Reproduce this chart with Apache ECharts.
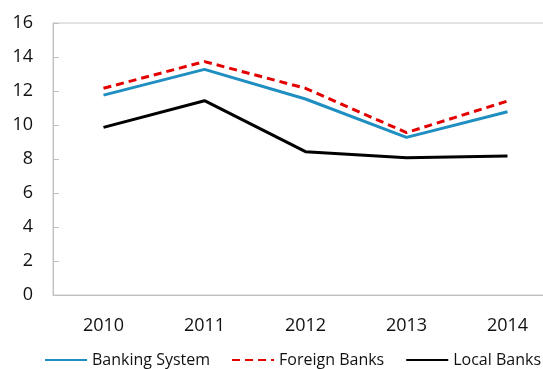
<!DOCTYPE html>
<html>
<head>
<meta charset="utf-8">
<script src="https://cdn.jsdelivr.net/npm/echarts@6/dist/echarts.min.js"></script>
<style>
  html, body { margin: 0; padding: 0; background: #fff; }
  #chart { width: 543px; height: 369px; }
</style>
</head>
<body>
<div id="chart"></div>
<script>
// Years on the horizontal axis
const years = ['2010', '2011', '2012', '2013', '2014'];

// Ratios per group of banks (%)
const bankingSystem = [11.76, 13.27, 11.53, 9.27, 10.78];
const foreignBanks  = [12.16, 13.73, 12.16, 9.55, 11.41];
const localBanks    = [9.86, 11.43, 8.43, 8.08, 8.18];

const fontFamily = '"Open Sans", "Noto Sans", sans-serif';

const chart = echarts.init(document.getElementById('chart'), null, { renderer: 'canvas' });

chart.setOption({
  animation: false,
  backgroundColor: '#ffffff',
  grid: {
    left: 53,
    top: 23,
    width: 505,
    height: 272,
    show: true,
    borderColor: '#c8c8c8',
    borderWidth: 1,
    containLabel: false,
    outerBoundsMode: 'none'
  },
  legend: {
    left: 44,
    top: 352,
    width: 560,
    padding: 0,
    itemWidth: 42,
    itemHeight: 14,
    itemGap: 21,
    itemStyle: { opacity: 0 },
    textStyle: { fontFamily, fontSize: 16, color: '#111' },
    data: ['Banking System', 'Foreign Banks', 'Local Banks']
  },
  xAxis: {
    type: 'category',
    data: years,
    boundaryGap: true,
    axisLine: { lineStyle: { color: '#c0c0c0', width: 1 } },
    axisTick: { inside: true, length: 6, lineStyle: { color: '#c0c0c0' } },
    axisLabel: { fontFamily, fontSize: 18, color: '#111', margin: 22 },
    splitLine: { show: false }
  },
  yAxis: {
    type: 'value',
    min: 0,
    max: 16,
    interval: 2,
    axisLine: { show: true, lineStyle: { color: '#c0c0c0', width: 1 } },
    axisTick: { show: true, inside: true, length: 6, lineStyle: { color: '#c0c0c0' } },
    axisLabel: { fontFamily, fontSize: 18, color: '#111', margin: 20 },
    splitLine: { show: false }
  },
  series: [
    {
      name: 'Banking System',
      type: 'line',
      data: bankingSystem,
      symbol: 'none',
      lineStyle: { color: '#1f8ec0', width: 3 },
      itemStyle: { color: '#1f8ec0' }
    },
    {
      name: 'Foreign Banks',
      type: 'line',
      data: foreignBanks,
      symbol: 'none',
      lineStyle: { color: '#e30000', width: 3, type: [8, 5] },
      itemStyle: { color: '#e30000' }
    },
    {
      name: 'Local Banks',
      type: 'line',
      data: localBanks,
      symbol: 'none',
      lineStyle: { color: '#000000', width: 3 },
      itemStyle: { color: '#000000' }
    }
  ]
});
</script>
</body>
</html>
